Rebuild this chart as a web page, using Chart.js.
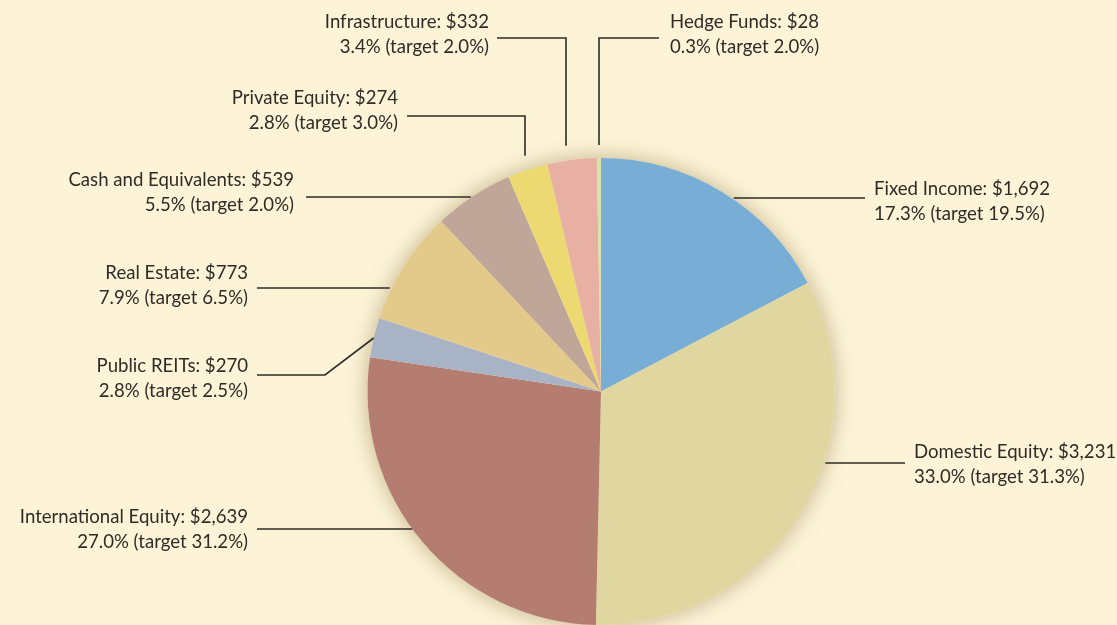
<!DOCTYPE html>
<html>
<head>
<meta charset="utf-8">
<script src="https://cdn.jsdelivr.net/npm/chart.js@4.4.1/dist/chart.umd.min.js"></script>
<style>
  html, body { margin: 0; padding: 0; background: #fdf4d8; }
  #wrap { width: 1117px; height: 625px; position: relative; overflow: hidden; }
  canvas { display: block; }
</style>
</head>
<body>
<div id="wrap"><canvas id="c" width="1117" height="625"></canvas></div>
<script>
// ---- data ----
const categories = [
  "Fixed Income", "Domestic Equity", "International Equity", "Public REITs",
  "Real Estate", "Cash and Equivalents", "Private Equity", "Infrastructure", "Hedge Funds"
];
const amounts = [1692, 3231, 2639, 270, 773, 539, 274, 332, 28];
const amountLabels = ["$1,692", "$3,231", "$2,639", "$270", "$773", "$539", "$274", "$332", "$28"];
const percents = ["17.3%", "33.0%", "27.0%", "2.8%", "7.9%", "5.5%", "2.8%", "3.4%", "0.3%"];
const targets = ["19.5%", "31.3%", "31.2%", "2.5%", "6.5%", "2.0%", "3.0%", "2.0%", "2.0%"];

// ---- styles ----
const colors = ["#78aed6", "#e0d6a0", "#b47d70", "#a8b4c6", "#e3c98a", "#c0a698", "#ecd972", "#e8b0a2", "#d6e4a8"];
const BG = "#fdf4d8";
const INK = "#2f2b27";
const FONT = "18.6px Lato, 'Liberation Sans', sans-serif";

// leader layout: kind 'h' = horizontal line at y to endX; 'v' = vertical at x up to y, then horizontal to endX;
// 'd' = diagonal from circle at y0 to elbow, then horizontal
const leaders = [
  { kind: "h", side: 1, y: 198, endX: 865, gap: 2, tx: 874, ty: 189, align: "left" },
  { kind: "h", side: 1, y: 463, endX: 905, gap: 2, tx: 914, ty: 452, align: "left" },
  { kind: "h", side: -1, y: 529, endX: 257, gap: 0, tx: 248, ty: 517, align: "right" },
  { kind: "d", side: -1, y0: 338, ex: 325, ey: 375, endX: 257, gap: 0, tx: 248, ty: 366, align: "right" },
  { kind: "h", side: -1, y: 288, endX: 257, gap: 2, tx: 248, ty: 273, align: "right" },
  { kind: "h", side: -1, y: 197, endX: 306, gap: 1, tx: 294, ty: 180, align: "right" },
  { kind: "v", x: 525, y: 116, endX: 407, gap: 15, tx: 398, ty: 98, align: "right" },
  { kind: "v", x: 566, y: 38, endX: 497, gap: 15, tx: 489, ty: 22, align: "right" },
  { kind: "v", x: 599, y: 38, endX: 659, gap: 13, tx: 670, ty: 22, align: "left" }
];

const bgPlugin = {
  id: "bg",
  beforeDraw(chart) {
    const ctx = chart.ctx;
    ctx.save();
    ctx.fillStyle = BG;
    ctx.fillRect(0, 0, chart.width, chart.height);
    ctx.restore();
  },
  beforeDatasetsDraw(chart) {
    const arc = chart.getDatasetMeta(0).data[0];
    const ctx = chart.ctx;
    ctx.save();
    ctx.shadowColor = "rgba(120, 95, 40, 0.45)";
    ctx.shadowBlur = 22;
    ctx.fillStyle = BG;
    ctx.beginPath();
    ctx.arc(arc.x, arc.y, arc.outerRadius, 0, Math.PI * 2);
    ctx.fill();
    ctx.restore();
  }
};

const leaderPlugin = {
  id: "leaders",
  afterDatasetsDraw(chart) {
    const ctx = chart.ctx;
    const arc = chart.getDatasetMeta(0).data[0];
    const cx = arc.x, cy = arc.y, r = arc.outerRadius;
    ctx.save();
    ctx.strokeStyle = INK;
    ctx.lineWidth = 1.6;
    ctx.fillStyle = INK;
    ctx.font = FONT;
    ctx.textBaseline = "middle";
    leaders.forEach((L, i) => {
      ctx.beginPath();
      if (L.kind === "h") {
        const dx = Math.sqrt(Math.max(r * r - (L.y - cy) * (L.y - cy), 0));
        const sx = cx + L.side * (dx + L.gap);
        ctx.moveTo(sx, L.y);
        ctx.lineTo(L.endX, L.y);
      } else if (L.kind === "v") {
        const dy = Math.sqrt(Math.max(r * r - (L.x - cx) * (L.x - cx), 0));
        const sy = cy - dy - L.gap;
        ctx.moveTo(L.x, sy);
        ctx.lineTo(L.x, L.y);
        ctx.lineTo(L.endX, L.y);
      } else {
        const dx = Math.sqrt(Math.max(r * r - (L.y0 - cy) * (L.y0 - cy), 0));
        const sx = cx + L.side * (dx + L.gap);
        ctx.moveTo(sx, L.y0);
        ctx.lineTo(L.ex, L.ey);
        ctx.lineTo(L.endX, L.ey);
      }
      ctx.stroke();
      ctx.textAlign = L.align;
      ctx.fillText(categories[i] + ": " + amountLabels[i], L.tx, L.ty);
      ctx.fillText(percents[i] + " (target " + targets[i] + ")", L.tx, L.ty + 25);
    });
    ctx.restore();
  }
};

new Chart(document.getElementById("c"), {
  type: "pie",
  data: {
    labels: categories,
    datasets: [{
      data: amounts,
      backgroundColor: colors,
      borderWidth: 0,
      hoverOffset: 0,
      offset: 0
    }]
  },
  options: {
    responsive: false,
    animation: false,
    events: [],
    layout: { padding: { left: 367, right: 282, top: 158, bottom: 0 } },
    plugins: { legend: { display: false }, tooltip: { enabled: false } }
  },
  plugins: [bgPlugin, leaderPlugin]
});
</script>
</body>
</html>
